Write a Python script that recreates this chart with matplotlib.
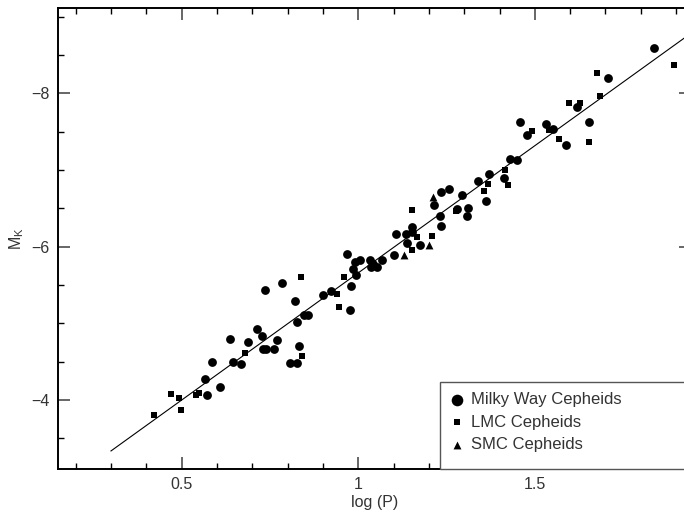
import matplotlib
matplotlib.use("Agg")
import matplotlib.pyplot as plt
from matplotlib.patches import Rectangle
from matplotlib.ticker import MultipleLocator

plt.rcParams['font.family'] = ['Liberation Sans', 'DejaVu Sans']

# Milky Way Cepheids (log P, M_K)
mw_logp = [0.572, 0.565, 0.610, 0.586, 0.646, 0.668, 0.637, 0.687, 0.712, 0.728,
           0.731, 0.740, 0.761, 0.771, 0.736, 0.783, 0.822, 0.828, 0.846, 0.857,
           0.833, 0.807, 0.826, 0.901, 0.923, 0.976, 0.980, 0.968, 0.991, 0.986,
           0.993, 1.005, 1.033, 1.037, 1.052, 1.066, 1.042, 1.101, 1.108, 1.135,
           1.151, 1.152, 1.139, 1.176, 1.214, 1.234, 1.257, 1.232, 1.233, 1.279,
           1.294, 1.310, 1.308, 1.340, 1.371, 1.361, 1.414, 1.431, 1.449, 1.458,
           1.478, 1.531, 1.552, 1.589, 1.618, 1.652, 1.708, 1.837]
mw_mk = [-4.06, -4.27, -4.165, -4.50, -4.50, -4.47, -4.80, -4.75, -4.93, -4.835,
         -4.66, -4.66, -4.665, -4.78, -5.43, -5.52, -5.295, -5.02, -5.11, -5.11,
         -4.70, -4.48, -4.48, -5.37, -5.42, -5.17, -5.49, -5.91, -5.80, -5.71,
         -5.63, -5.83, -5.83, -5.73, -5.73, -5.83, -5.77, -5.89, -6.16, -6.17,
         -6.25, -6.19, -6.05, -6.02, -6.54, -6.71, -6.75, -6.40, -6.27, -6.49,
         -6.67, -6.50, -6.40, -6.86, -6.95, -6.59, -6.89, -7.14, -7.13, -7.62,
         -7.45, -7.60, -7.54, -7.33, -7.82, -7.63, -8.20, -8.59]

# LMC Cepheids
lmc_logp = [0.423, 0.470, 0.493, 0.498, 0.540, 0.548, 0.680, 0.839, 0.841, 0.941,
            0.945, 0.961, 1.153, 1.153, 1.167, 1.209, 1.276, 1.357, 1.367, 1.416,
            1.425, 1.492, 1.540, 1.567, 1.596, 1.627, 1.654, 1.676, 1.685, 1.894]
lmc_mk = [-3.80, -4.074, -4.03, -3.87, -4.065, -4.087, -4.61, -5.60, -4.57, -5.38,
          -5.21, -5.61, -6.48, -5.96, -6.12, -6.14, -6.47, -6.73, -6.82, -7.00,
          -6.80, -7.51, -7.52, -7.41, -7.88, -7.88, -7.36, -8.27, -7.97, -8.37]

# SMC Cepheids
smc_logp = [1.130, 1.201, 1.212]
smc_mk = [-5.89, -6.02, -6.65]

# fitted P-L relation
fit_slope = -3.318
fit_zero = -2.34
fit_logp = [0.30, 1.95]
fit_mk = [fit_slope * p + fit_zero for p in fit_logp]

text_col = '#333333'

fig = plt.figure(figsize=(6.84, 5.12), dpi=100)
ax = fig.add_axes([0.0848, 0.084, 0.9254, 0.9004])

ax.plot(fit_logp, fit_mk, color='black', lw=0.8, zorder=2)
ax.scatter(mw_logp, mw_mk, marker='o', s=40, color='black', lw=0, zorder=3,
           label='Milky Way Cepheids')
ax.scatter(lmc_logp, lmc_mk, marker='s', s=25, color='black', lw=0, zorder=3,
           label='LMC Cepheids')
ax.scatter(smc_logp, smc_mk, marker='^', s=32, color='black', lw=0, zorder=3,
           label='SMC Cepheids')

ax.set_xlim(0.15, 1.942)
ax.set_ylim(-3.1, -9.113)

ax.xaxis.set_minor_locator(MultipleLocator(0.1))
ax.yaxis.set_minor_locator(MultipleLocator(0.5))
ax.set_xticks([0.5, 1.0, 1.5])
ax.set_xticklabels(['0.5', '1', '1.5'])
ax.set_yticks([-4, -6, -8])
ax.set_yticklabels(['\u22124', '\u22126', '\u22128'])

ax.tick_params(which='both', direction='in', top=True, right=True,
               labelsize=11.5, labelcolor=text_col)
ax.tick_params(which='major', length=8.6, width=1.4, color='#666666', pad=6)
ax.tick_params(which='minor', length=4.3, width=1.0, color='black')
for sp in ax.spines.values():
    sp.set_linewidth(1.4)
    sp.set_color('black')

ax.set_xlabel('log (P)', fontsize=11.5, color=text_col, labelpad=2)
ax.set_ylabel(r'M$_\mathregular{K}$', fontsize=11.5, color=text_col, labelpad=4)

# legend box (runs off the right edge, as in the original)
box = Rectangle((0.6035, 0.0), 0.5, 0.1887, transform=ax.transAxes,
                facecolor='white', edgecolor='#555555', lw=1.0, zorder=4,
                clip_on=False)
ax.add_patch(box)
leg = ax.legend(loc='upper left', bbox_to_anchor=(0.6035, 0.1887), frameon=False,
                fontsize=12, handlelength=0.86, handletextpad=0.42,
                labelspacing=0.46, borderpad=0.6, borderaxespad=0.0)
leg.set_zorder(5)
leg.legend_handles[0].set_sizes([70])
for t in leg.get_texts():
    t.set_color(text_col)

fig.savefig('out.png', dpi=100)
